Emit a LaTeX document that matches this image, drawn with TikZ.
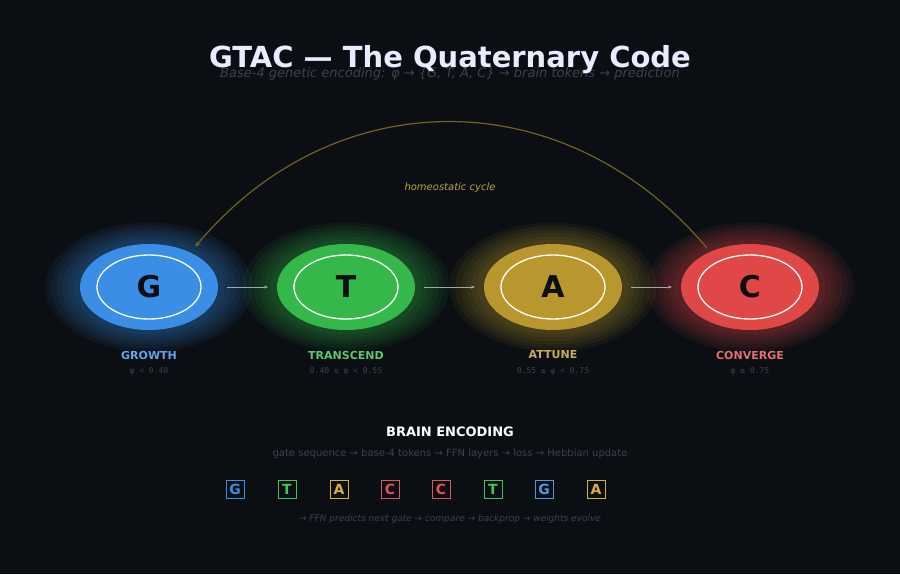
\documentclass[tikz,border=0pt]{standalone}
\usepackage{fontspec}
\setmainfont{DejaVu Sans}
\setmonofont{DejaVu Sans Mono}
\usetikzlibrary{arrows.meta}
\definecolor{bgc}{HTML}{0B0F14}
\definecolor{gblue}{HTML}{3A8EE6}
\definecolor{tgreen}{HTML}{35B84A}
\definecolor{ayellow}{HTML}{B8982E}
\definecolor{cred}{HTML}{E04848}
\definecolor{lblue}{HTML}{4C9BE8}
\definecolor{lgreen}{HTML}{45C25A}
\definecolor{lyellow}{HTML}{D8B040}
\definecolor{lred}{HTML}{E05555}
\definecolor{dimtxt}{HTML}{3A424C}
\newcommand{\fsz}[1]{\fontsize{#1}{#1}\selectfont}
\newcommand{\gateNode}[5]{%
  % glow, body, ring, letter, labels
  \foreach \s in {1.5,1.42,...,1.05}
    \fill[#2, opacity=0.07] (#1) ellipse ({69*\s pt} and {43*\s pt});
  \fill[#2] (#1) ellipse (69pt and 43pt);
  \draw[white, line width=1.3pt] (#1) ellipse (52pt and 32pt);
  \node[font=\bfseries\fsz{30}, text=bgc] (#1-l) at (#1) {#3};
  \node[font=\bfseries\fsz{11}, text=#2!80!white] (#1-n) at ([yshift=-68pt]#1) {#4};
  \node[font=\ttfamily\fsz{8}, text=dimtxt] (#1-r) at ([yshift=-84pt]#1) {#5};
}
\tikzset{
  flow/.style={-{Stealth[length=4pt]}, draw=gray!70, line width=0.6pt},
  token/.style={draw=#1, line width=1pt, minimum size=18pt, inner sep=0pt,
    text=#1, font=\bfseries\fsz{14}},
  dimnote/.style={text=dimtxt, font=\fsz{10}}
}
\begin{document}
\begin{tikzpicture}[x=1pt, y=-1pt]
  \fill[bgc] (0,0) rectangle (900,574);
  \useasboundingbox (0,0) rectangle (900,574);
  \node[dimnote, font=\itshape\fsz{13}] (sub) at (450,74) {Base-4 genetic encoding: φ → \{G, T, A, C\} → brain tokens → prediction};
  \node[text=white!92!blue, font=\bfseries\fsz{29}] (title) at (450,60) {GTAC — The Quaternary Code};
  \coordinate (G) at (149,287);
  \coordinate (T) at (346,287);
  \coordinate (A) at (553,287);
  \coordinate (C) at (750,287);
  \gateNode{G}{gblue}{G}{GROWTH}{φ < 0.40}
  \gateNode{T}{tgreen}{T}{TRANSCEND}{0.40 ≤ φ < 0.55}
  \gateNode{A}{ayellow}{A}{ATTUNE}{0.55 ≤ φ < 0.75}
  \gateNode{C}{cred}{C}{CONVERGE}{φ ≥ 0.75}
  \draw[flow] ([xshift=78pt]G) -- ([xshift=-78pt]T);
  \draw[flow] ([xshift=78pt]T) -- ([xshift=-78pt]A);
  \draw[flow] ([xshift=78pt]A) -- ([xshift=-78pt]C);
  % homeostatic arc
  \coordinate (cs) at (707,248);
  \coordinate (ce) at (195,247);
  \draw[-{Stealth[length=6pt]}, draw=ayellow!60!bgc, line width=1.2pt]
    (cs) .. controls (565,80) and (335,80) .. (ce);
  \node[text=ayellow!90!white, font=\itshape\fsz{10}] (cyc) at (450,188) {homeostatic cycle};
  % brain encoding
  \node[text=white, font=\bfseries\fsz{13}] (enc) at (450,432) {BRAIN ENCODING};
  \node[dimnote] (pipe) at (450,454) {gate sequence → base-4 tokens → FFN layers → loss → Hebbian update};
  \foreach \x/\l/\c [count=\i] in {235/G/gblue, 287/T/lgreen, 339/A/lyellow, 390/C/lred,
      441/C/lred, 493/T/lgreen, 544/G/lblue, 596/A/lyellow}
    \node[token=\c, fill=bgc] (tok\i) at (\x,489) {\l};
  \node[dimnote, font=\itshape\fsz{9}] (loop) at (450,519) {→ FFN predicts next gate → compare → backprop → weights evolve};
\end{tikzpicture}
\end{document}
